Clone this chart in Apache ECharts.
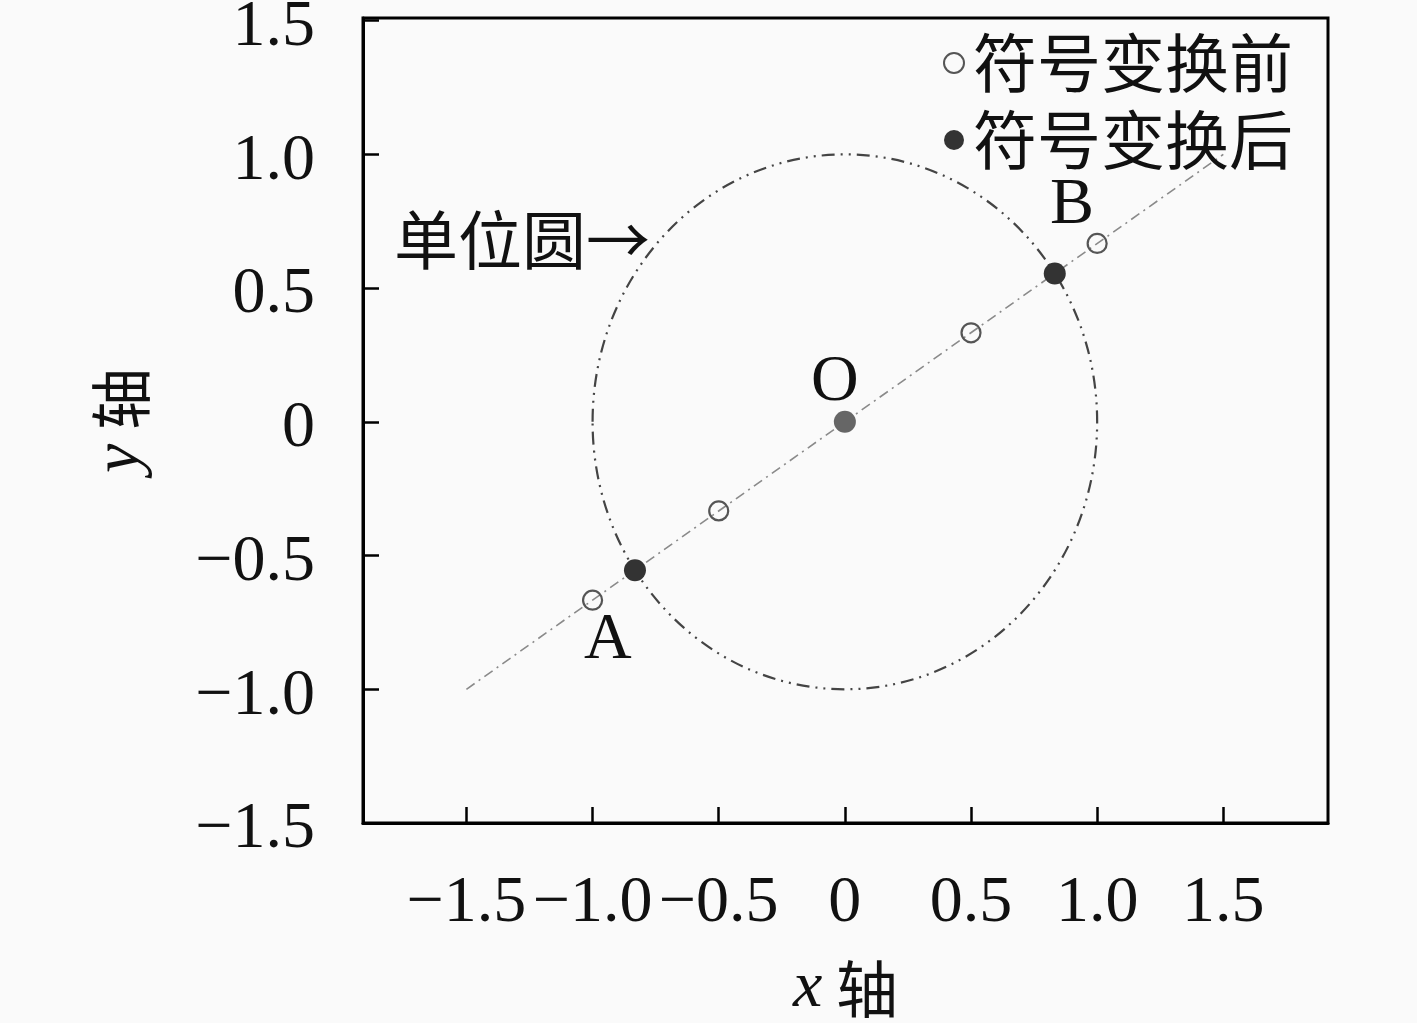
<!DOCTYPE html>
<html>
<head>
<meta charset="utf-8">
<script src="https://cdn.jsdelivr.net/npm/echarts@6/dist/echarts.min.js"></script>
<style>
  html, body { margin: 0; padding: 0; background: #fafafa; }
  #main { width: 1417px; height: 1023px; }
</style>
</head>
<body>
<div id="main"></div>
<script>
// tick positions and their printed labels
var xTickValues = [-1.5, -1, -0.5, 0, 0.5, 1, 1.5];
var xTickLabels = ['−1.5', '−1.0', '−0.5', '0', '0.5', '1.0', '1.5'];
var yTickValues = [-1.5, -1, -0.5, 0, 0.5, 1, 1.5];
var yTickLabels = ['−1.5', '−1.0', '−0.5', '0', '0.5', '1.0', '1.5'];

// points before / after the sign change, and the origin
var beforePoints = [[-1, -0.667], [-0.5, -0.333], [0.5, 0.333], [1, 0.667]];
var afterPoints = [[-0.832, -0.555], [0.832, 0.555]];
var originPoint = [[0, 0]];

// the dash-dot line through the origin
var linePoints = [[-1.5, -1], [1.5, 1]];

// unit circle: centre x, centre y, radius
var unitCircle = [[0, 0, 1]];

// text placed in data coordinates
var annotations = [
    {name: 'A', value: [-0.94, -0.82]},
    {name: 'B', value: [0.90, 0.81]},
    {name: 'O', value: [-0.04, 0.146]},
    {name: '单位圆→', value: [-1.28, 0.68]}
];

var serif = '"Liberation Serif", "DejaVu Serif", serif';
var cjk = '"Noto Sans CJK SC", sans-serif';

function tickText(values, labels, rich) {
    return function (v) {
        var i = values.indexOf(Math.round(v * 10) / 10);
        if (i < 0) return '';
        return rich ? '{t|' + labels[i] + '}' : labels[i];
    };
}

var myChart = echarts.init(document.getElementById('main'));

var axisNameStyle = {
    fontFamily: cjk,
    fontSize: 62,
    color: '#111',
    rich: {
        i: {fontFamily: serif, fontStyle: 'italic', fontSize: 66, color: '#111'}
    }
};

var option = {
    backgroundColor: '#fafafa',
    animation: false,
    grid: {
        left: 363,
        top: 18,
        right: 89,
        bottom: 200,
        outerBoundsMode: 'none',
        containLabel: false,
        show: true,
        borderColor: '#000',
        borderWidth: 3,
        backgroundColor: 'transparent'
    },
    legend: {
        data: ['符号变换前', '符号变换后'],
        orient: 'vertical',
        left: 943,
        top: 27,
        padding: 0,
        itemGap: 5,
        itemWidth: 20,
        itemHeight: 20,
        icon: 'circle',
        textStyle: {
            fontFamily: cjk,
            fontSize: 64,
            lineHeight: 72,
            padding: [0, 0, 0, 4],
            color: '#111'
        }
    },
    xAxis: {
        type: 'value',
        min: -1.91,
        max: 1.915,
        name: '{i|x} 轴',
        nameLocation: 'middle',
        nameGap: 133,
        nameTextStyle: axisNameStyle,
        axisLine: {show: true, onZero: false, lineStyle: {color: '#000', width: 3}},
        splitLine: {show: false},
        axisTick: {
            show: true,
            inside: true,
            length: 16,
            customValues: xTickValues,
            lineStyle: {color: '#000', width: 2.5}
        },
        axisLabel: {
            customValues: xTickValues,
            formatter: tickText(xTickValues, xTickLabels, false),
            margin: 48,
            fontFamily: serif,
            fontSize: 66,
            color: '#111'
        }
    },
    yAxis: {
        type: 'value',
        min: -1.5,
        max: 1.51,
        name: '{i|y} 轴',
        nameLocation: 'middle',
        nameGap: 209,
        nameTextStyle: axisNameStyle,
        axisLine: {show: true, onZero: false, lineStyle: {color: '#000', width: 3}},
        splitLine: {show: false},
        axisTick: {
            show: true,
            inside: true,
            length: 16,
            customValues: yTickValues,
            lineStyle: {color: '#000', width: 2.5}
        },
        axisLabel: {
            customValues: yTickValues,
            formatter: tickText(yTickValues, yTickLabels, true),
            margin: 48,
            fontFamily: serif,
            fontSize: 66,
            color: '#111',
            rich: {
                t: {
                    fontFamily: serif,
                    fontSize: 66,
                    color: '#111',
                    lineHeight: 66,
                    padding: [14, 0, 0, 0]
                }
            }
        }
    },
    series: [
        {
            name: 'circle',
            type: 'custom',
            data: unitCircle,
            silent: true,
            z: 1,
            renderItem: function (params, api) {
                var c = api.coord([api.value(0), api.value(1)]);
                var s = api.size([api.value(2), api.value(2)]);
                return {
                    type: 'ellipse',
                    shape: {cx: c[0], cy: c[1], rx: s[0], ry: s[1]},
                    style: {
                        fill: 'none',
                        stroke: '#444',
                        lineWidth: 2.2,
                        lineDash: [13, 6, 2, 6, 2, 6]
                    }
                };
            }
        },
        {
            name: 'line',
            type: 'line',
            data: linePoints,
            symbol: 'none',
            silent: true,
            z: 2,
            lineStyle: {color: '#8a8a8a', width: 1.6, type: [10, 5, 2, 5]}
        },
        {
            name: '符号变换前',
            type: 'scatter',
            data: beforePoints,
            symbol: 'circle',
            symbolSize: 19,
            z: 3,
            itemStyle: {color: 'transparent', borderColor: '#555', borderWidth: 2.2, opacity: 1}
        },
        {
            name: '符号变换后',
            type: 'scatter',
            data: afterPoints,
            symbol: 'circle',
            symbolSize: 22,
            z: 3,
            itemStyle: {color: '#333', opacity: 1}
        },
        {
            name: 'origin',
            type: 'scatter',
            data: originPoint,
            symbol: 'circle',
            symbolSize: 22,
            z: 3,
            itemStyle: {color: '#666', opacity: 1}
        },
        {
            name: 'annotations',
            type: 'scatter',
            data: annotations,
            symbolSize: 0,
            silent: true,
            z: 4,
            itemStyle: {opacity: 1},
            label: {
                show: true,
                position: 'inside',
                formatter: '{b}',
                fontFamily: serif,
                fontSize: 66,
                color: '#111'
            },
            labelLayout: {hideOverlap: false}
        }
    ]
};

// the CJK annotation needs the CJK font
option.series[5].data[3].label = {fontFamily: cjk, fontSize: 64};

myChart.setOption(option);
</script>
</body>
</html>
